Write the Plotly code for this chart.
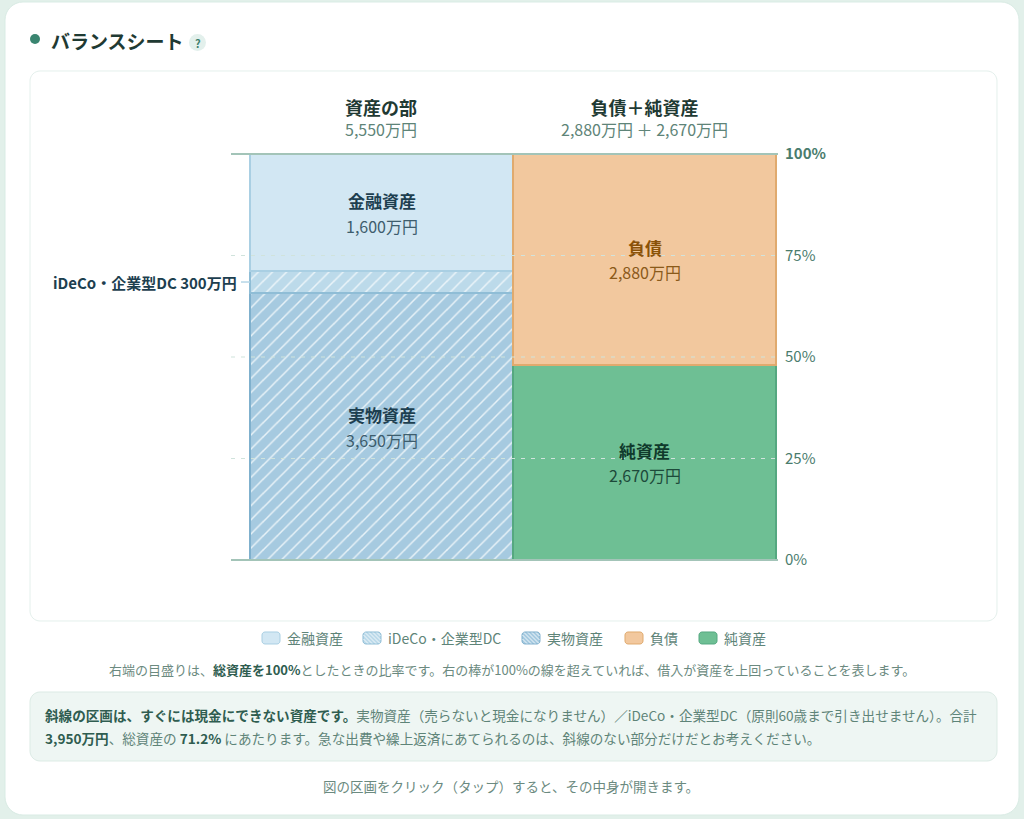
import plotly.graph_objects as go

# 万円
names = ["金融資産", "iDeCo・企業型DC", "実物資産", "負債", "純資産"]
columns = ["資産の部", "資産の部", "資産の部", "負債＋純資産", "負債＋純資産"]
values = [1600, 300, 3650, 2880, 2670]
value_labels = ["1,600万円", "300万円", "3,650万円", "2,880万円", "2,670万円"]
total = 5550
tick_vals = [0, 25, 50, 75, 100]
tick_text = ["0%", "25%", "50%", "75%", "<b>100%</b>"]

fills = ["#d2e7f3", "#bcdaea", "#a6cae0", "#f2c89e", "#6ebf94"]
edges = ["#a9cfe3", "#8fbdd6", "#7fb0cd", "#e0aa6e", "#55a880"]
hatched = [False, True, True, False, False]
label_colors = ["#1d3f50", None, "#1d3f50", "#8a5208", "#103a2c"]
value_colors = ["#3d5d6d", None, "#3d5d6d", "#8a5a1a", "#1d4a3a"]

FONT = "Noto Sans CJK JP"
W, H = 1024, 819


def px(x):
    return x / W


def py(y):
    return 1 - y / H


PLOT_BOTTOM, PLOT_TOP = py(560), py(154)


def pct_y(v):
    # y軸の%をpaper座標にする（端の線が切れないように）
    return PLOT_BOTTOM + v / 100 * (PLOT_TOP - PLOT_BOTTOM)


def rounded(x0, y0, x1, y1, r):
    # 角丸の四角をpaper座標のパスにする
    k = r * 0.45
    pts = [
        ("M", x0 + r, y0), ("L", x1 - r, y0),
        ("C", x1 - k, y0, x1, y0 + k, x1, y0 + r), ("L", x1, y1 - r),
        ("C", x1, y1 - k, x1 - k, y1, x1 - r, y1), ("L", x0 + r, y1),
        ("C", x0 + k, y1, x0, y1 - k, x0, y1 - r), ("L", x0, y0 + r),
        ("C", x0, y0 + k, x0 + k, y0, x0 + r, y0),
    ]
    out = ""
    for p in pts:
        coords = p[1:]
        out += p[0] + " ".join(
            f"{px(coords[i]):.5f},{py(coords[i + 1]):.5f}" for i in range(0, len(coords), 2)
        ) + " "
    return out + "Z"


def box(x0, y0, x1, y1, r, fill, line, width=1.0):
    return dict(type="path", xref="paper", yref="paper", path=rounded(x0, y0, x1, y1, r),
                fillcolor=fill, line=dict(color=line, width=width), layer="below")


def text(x, y, s, size, color, anchor="center"):
    return dict(xref="paper", yref="paper", x=px(x), y=py(y), text=s, showarrow=False,
                xanchor=anchor, yanchor="middle", font=dict(family=FONT, size=size, color=color))


def header(x, title, sub):
    s = f'<span style="font-size:18px;color:#1f3a33"><b>{title}</b></span><br>{sub}'
    return text(x, 118, s, 16, "#5e8478")


fig = go.Figure()
for i in [2, 1, 0, 4, 3]:
    pattern = dict(shape="/", bgcolor=fills[i], fgcolor="#f4fafc", fgopacity=0.85, size=10, solidity=0.15) if hatched[i] else None
    fig.add_trace(go.Bar(
        x=[columns[i]], y=[values[i] / total * 100], name=names[i],
        marker=dict(color=fills[i], line=dict(color=edges[i], width=2), pattern=pattern),
        showlegend=False,
    ))

shapes = [
    box(5, 2, 1019, 815, 18, "#ffffff", "#d9ebe4", 1),
    box(30, 71, 997, 621, 10, "#ffffff", "#e4f0ec", 1),
    box(30, 692, 997, 761, 10, "#eef6f3", "#dcebe5", 1),
    dict(type="circle", xref="paper", yref="paper", x0=px(30), x1=px(40), y0=py(44), y1=py(34),
         fillcolor="#3a8570", line_width=0),
    dict(type="circle", xref="paper", yref="paper", x0=px(189), x1=px(206), y0=py(51), y1=py(34),
         fillcolor="#e3f0ec", line_width=0),
]

# 目盛りの線
for v in tick_vals:
    solid = v in (0, 100)
    shapes.append(dict(
        type="line", xref="paper", yref="paper", x0=px(231), x1=px(778 if solid else 776),
        y0=pct_y(v), y1=pct_y(v),
        line=dict(color="#a3c4b8" if solid else "#d0e3dc", width=2 if solid else 1.2,
                  dash="solid" if solid else "4px,6px"),
        layer="above",
    ))

# iDeCoの引き出し線
ideco_mid = (values[2] + values[1] / 2) / total * 100
shapes.append(dict(type="line", xref="paper", yref="paper", x0=px(241), x1=px(250),
                   y0=pct_y(ideco_mid), y1=pct_y(ideco_mid),
                   line=dict(color="#b5d6e6", width=1.5)))

annotations = [
    text(48.5, 40, "<b>バランスシート</b>", 19, "#1f3a33", "left"),
    text(197.5, 42.5, "<b>?</b>", 11, "#3e7f6c"),
    header(381, "資産の部", "5,550万円"),
    header(644, "負債＋純資産", "2,880万円 ＋ 2,670万円"),
    dict(xref="paper", yref="y", x=px(239), y=ideco_mid, text="<b>iDeCo・企業型DC 300万円</b>", showarrow=False,
         xanchor="right", yanchor="middle", font=dict(family=FONT, size=15, color="#1d3f50")),
    text(512, 669, '右端の目盛りは、<b style="color:#2f5d50">総資産を100%</b>としたときの比率です。'
                   '右の棒が100%の線を超えていれば、借入が資産を上回っていることを表します。', 13, "#6b8a80"),
    text(43, 714.5, '<b style="color:#2f5d50">斜線の区画は、すぐには現金にできない資産です。</b>'
                    '実物資産（売らないと現金になりません）／iDeCo・企業型DC（原則60歳まで引き出せません）。合計',
         13.6, "#5e8478", "left"),
    text(43, 738, '<b style="color:#2f5d50">3,950万円</b>、総資産の <b style="color:#2f5d50">71.2%</b> '
                  'にあたります。急な出費や繰上返済にあてられるのは、斜線のない部分だけだとお考えください。',
         13.6, "#5e8478", "left"),
    text(510.5, 785.5, "図の区画をクリック（タップ）すると、その中身が開きます。", 13.5, "#6b8a80"),
]

# 区画のラベル
base = {"資産の部": 0, "負債＋純資産": 0}
for i in [2, 1, 0, 4, 3]:
    pct = values[i] / total * 100
    mid = base[columns[i]] + pct / 2
    base[columns[i]] += pct
    if label_colors[i] is None:
        continue
    annotations.append(dict(x=columns[i], y=mid, text=f"<b>{names[i]}</b>", showarrow=False, yshift=12,
                            font=dict(family=FONT, size=17, color=label_colors[i])))
    annotations.append(dict(x=columns[i], y=mid, text=value_labels[i], showarrow=False, yshift=-13,
                            font=dict(family=FONT, size=16, color=value_colors[i])))

# 凡例は手で並べる
legend_x = [262, 363, 522, 625, 699]
for i, x in enumerate(legend_x):
    shapes.append(box(x, 632, x + 18, 644, 3, fills[i], edges[i], 1))
    shapes[-1]["layer"] = "above"
    if hatched[i]:
        for off in range(0, 24, 4):
            x0, y0 = x + off - 6, 632.5
            x1, y1 = x + off + 5, 643.5
            x0c = max(x0, x + 0.5)
            y0c = y0 + (x0c - x0)
            x1c = min(x1, x + 17.5)
            y1c = y1 - (x1 - x1c)
            shapes.append(dict(type="line", xref="paper", yref="paper", x0=px(x0c), x1=px(x1c),
                               y0=py(y0c), y1=py(y1c), line=dict(color="#f2f8fb", width=1)))
    annotations.append(text(x + 22.5, 638, names[i], 14, "#5e8478", "left"))

fig.update_layout(
    width=W, height=H,
    margin=dict(l=0, r=0, t=0, b=0, autoexpand=False),
    paper_bgcolor="#e2f0ea", plot_bgcolor="rgba(0,0,0,0)",
    barmode="stack", bargap=0,
    shapes=shapes, annotations=annotations,
    font=dict(family=FONT),
    # 棒の外枠が切れないように左右1pxだけ広げる
    xaxis=dict(domain=[px(249), px(777)], visible=False, range=[-0.5 - 1 / 263, 1.5 + 1 / 263], fixedrange=True),
    yaxis=dict(domain=[PLOT_BOTTOM, PLOT_TOP], range=[0, 100], side="right", showgrid=False, zeroline=False,
               tickvals=tick_vals, ticktext=tick_text, ticks="", ticklabelstandoff=7, showline=False,
               tickfont=dict(family=FONT, size=15, color="#4a7c6d"), fixedrange=True),
)

fig.write_html("out.html", config=dict(displayModeBar=False),
               post_script="document.body.style.margin='0';document.body.style.overflow='hidden';")
